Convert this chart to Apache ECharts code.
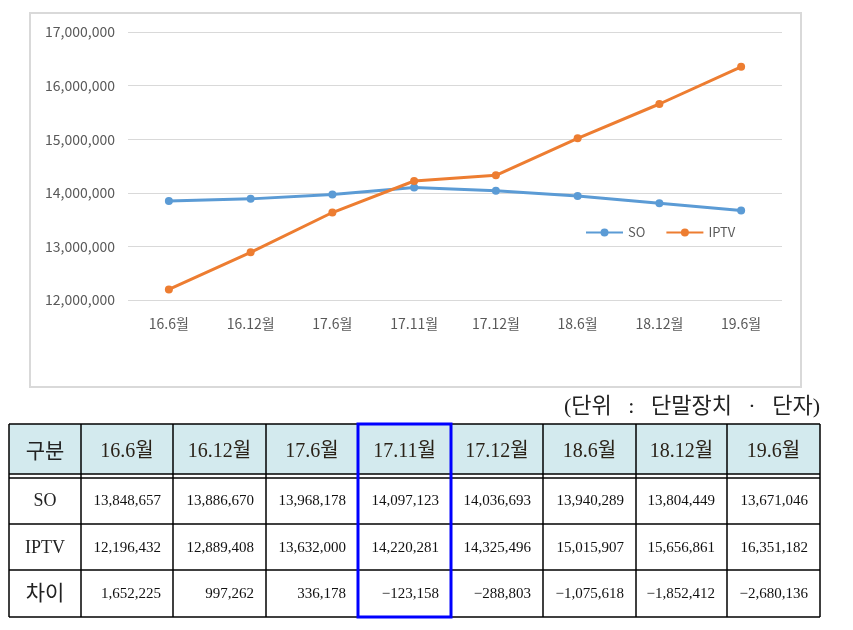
<!DOCTYPE html>
<html><head><meta charset="utf-8">
<script src="https://cdn.jsdelivr.net/npm/echarts@6/dist/echarts.min.js"></script>
<style>html,body{margin:0;padding:0;background:#fff}#c{width:853px;height:630px}</style>
</head><body><div id="c"></div>
<script>
var categories = ['16.6월','16.12월','17.6월','17.11월','17.12월','18.6월','18.12월','19.6월'];
var soValues = [13848657, 13886670, 13968178, 14097123, 14036693, 13940289, 13804449, 13671046];
var iptvValues = [12196432, 12889408, 13632000, 14220281, 14325496, 15015907, 15656861, 16351182];
var diffValues = [1652225, 997262, 336178, -123158, -288803, -1075618, -1852412, -2680136];
var rowLabels = ['구분','SO','IPTV','차이'];
var unitText = '(단위   :   단말장치   ·   단자)';

function fmt(v){ return v.toLocaleString('en-US'); }

var chart = echarts.init(document.getElementById('c'));

var colX = [9, 81, 173, 266, 358, 451, 543, 636, 727, 820];
var rowY = [424, 476, 524, 570, 617];
var serif = '"Liberation Serif","DejaVu Serif","Noto Sans CJK KR",serif';
var sans = '"Noto Sans CJK KR", sans-serif';
var g = [];
// chart frame
g.push({type:'rect', shape:{x:30,y:13,width:771,height:374}, style:{fill:'none', stroke:'#D9D9D9', lineWidth:2}, z:-1});
// header fill
g.push({type:'rect', shape:{x:colX[0], y:rowY[0], width:colX[9]-colX[0], height:rowY[1]-rowY[0]-2}, style:{fill:'#D3EAEE'}});
// horizontal lines
[rowY[0], rowY[1]-2, rowY[1]+2, rowY[2], rowY[3], rowY[4]].forEach(function(y){
  g.push({type:'line', shape:{x1:colX[0], y1:y, x2:colX[9], y2:y}, style:{stroke:'#000', lineWidth:1.5}});
});
// vertical lines
colX.forEach(function(x){
  g.push({type:'line', shape:{x1:x, y1:rowY[0], x2:x, y2:rowY[4]}, style:{stroke:'#000', lineWidth:1.5}});
});
var rowCenters = [452, 501, 548, 594];
// first column labels
rowLabels.forEach(function(t,i){
  var isHangul = (i===0 || i===3);
  g.push({type:'text', x:(colX[0]+colX[1])/2, y:rowCenters[i], style:{text:t, fill:'#222', font: (isHangul?'21px ':'18px ')+serif, align:'center', verticalAlign:'middle'}});
});
// header categories
categories.forEach(function(c,j){
  g.push({type:'text', x:(colX[j+1]+colX[j+2])/2, y:rowCenters[0], style:{text:c, fill:'#2a2218', font:'20px '+serif, align:'center', verticalAlign:'middle'}});
});
[soValues, iptvValues, diffValues].forEach(function(arr, r){
  arr.forEach(function(v,j){
    var txt = fmt(v).replace('-', '−');
    g.push({type:'text', x:colX[j+2]-12, y:rowCenters[r+1], style:{text:txt, fill:'#111', font:'15px '+serif, align:'right', verticalAlign:'middle'}});
  });
});
// blue highlight
g.push({type:'rect', shape:{x:colX[4], y:rowY[0], width:colX[5]-colX[4], height:rowY[4]-rowY[0]}, style:{fill:'none', stroke:'#0000FF', lineWidth:3}, z:10});
// unit
g.push({type:'text', x:820, y:407, style:{text:unitText, fill:'#222', font:'22px '+serif, align:'right', verticalAlign:'middle'}});

chart.setOption({
  animation:false,
  backgroundColor:'#fff',
  color:['#5B9BD5','#ED7D31'],
  grid:{left:128, right:71, top:32, bottom:330},
  legend:{left:580, top:221, itemWidth:37, itemHeight:10, itemGap:20, data:['SO','IPTV'],
    textStyle:{color:'#595959', fontSize:13, fontFamily:sans}},
  xAxis:{type:'category', data:categories, boundaryGap:true,
    axisLine:{show:false}, axisTick:{show:false},
    axisLabel:{color:'#595959', fontSize:14, margin:17, fontFamily:sans}},
  yAxis:{type:'value', min:12000000, max:17000000, interval:1000000,
    axisLine:{show:false}, axisTick:{show:false},
    splitLine:{lineStyle:{color:'#D9D9D9', width:1}},
    axisLabel:{color:'#595959', fontSize:14, margin:13, formatter:function(v){return fmt(v);}, fontFamily:sans}},
  series:[
    {name:'SO', type:'line', data:soValues, symbol:'circle', symbolSize:8, lineStyle:{width:3}},
    {name:'IPTV', type:'line', data:iptvValues, symbol:'circle', symbolSize:8, lineStyle:{width:3}}
  ],
  graphic:g
});
</script>
</body></html>
